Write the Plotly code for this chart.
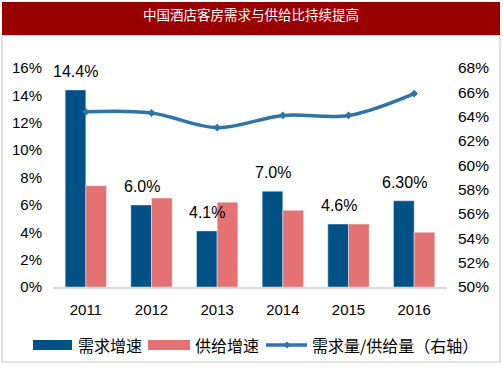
import plotly.graph_objects as go

years = ["2011", "2012", "2013", "2014", "2015", "2016"]
demand_growth = [14.4, 6.0, 4.1, 7.0, 4.6, 6.3]
demand_labels = ["14.4%", "6.0%", "4.1%", "7.0%", "4.6%", "6.30%"]
supply_growth = [7.4, 6.5, 6.2, 5.6, 4.6, 4.0]
ratio = [64.4, 64.3, 63.1, 64.1, 64.1, 65.9]
left_ticks = [0, 2, 4, 6, 8, 10, 12, 14, 16]
right_ticks = [50, 52, 54, 56, 58, 60, 62, 64, 66, 68]
series_names = ["需求增速", "供给增速", "需求量/供给量（右轴）"]
title_text = "中国酒店客房需求与供给比持续提高"

W, H = 503, 378
ML, MR, MT, MB = 53, 56, 68, 91
PW, PH = W - ML - MR, H - MT - MB

def fx(x):
    return (x - ML) / PW

def fy(y):
    return (H - MB - y) / PH

DARK = "#005286"
PINK = "#e47272"
LINE = "#2f74a6"
FONT = "Liberation Sans, Arial, Noto Sans CJK SC, sans-serif"
CJK = "Noto Sans CJK SC"

fig = go.Figure()
fig.add_trace(go.Bar(x=years, y=demand_growth, name=series_names[0], marker_color=DARK,
                     showlegend=False))
fig.add_trace(go.Bar(x=years, y=supply_growth, name=series_names[1], marker_color=PINK,
                     showlegend=False))
fig.add_trace(go.Scatter(x=years, y=ratio, yaxis="y2", name=series_names[2], showlegend=False,
                         mode="lines+markers", line=dict(color=LINE, width=3.5, shape="spline"),
                         marker=dict(symbol="diamond", size=6, color=LINE)))

# category axis: annotation x given as category index
for i, (v, t) in enumerate(zip(demand_growth, demand_labels)):
    fig.add_annotation(x=i, y=v, text=t, showarrow=False, xref="x", yref="y",
                       xshift=-10, yanchor="bottom", yshift=8,
                       font=dict(size=16, color="#000", family=FONT))

shapes = [
    dict(type="rect", xref="paper", yref="paper", x0=fx(2), x1=fx(500), y0=fy(362), y1=fy(35),
         line=dict(color="#d9d9d9", width=1.5), fillcolor="rgba(0,0,0,0)", layer="below"),
    dict(type="rect", xref="paper", yref="paper", x0=fx(2), x1=fx(500), y0=fy(35), y1=fy(2),
         line=dict(width=0), fillcolor="#990000", layer="below"),
    # legend keys
    dict(type="rect", xref="paper", yref="paper", x0=fx(33), x1=fx(72), y0=fy(350), y1=fy(340),
         line=dict(width=0), fillcolor=DARK),
    dict(type="rect", xref="paper", yref="paper", x0=fx(148), x1=fx(190), y0=fy(350), y1=fy(340),
         line=dict(width=0), fillcolor=PINK),
    dict(type="line", xref="paper", yref="paper", x0=fx(266), x1=fx(307), y0=fy(345), y1=fy(345),
         line=dict(color=LINE, width=3.5)),
    dict(type="path", xref="paper", yref="paper",
         path=f"M {fx(283.5)} {fy(345)} L {fx(287)} {fy(341.5)} L {fx(290.5)} {fy(345)} L {fx(287)} {fy(348.5)} Z",
         line=dict(width=0), fillcolor=LINE),
]
fig.add_annotation(x=fx(251), y=fy(14), xref="paper", yref="paper", text=title_text,
                   showarrow=False, xanchor="center", yanchor="middle",
                   font=dict(size=13.5, color="white", family=CJK))
for xpos, name in zip([76, 193, 310], series_names):
    fig.add_annotation(x=fx(xpos), y=fy(345), xref="paper", yref="paper", text=name,
                       showarrow=False, xanchor="left", yanchor="middle",
                       font=dict(size=16, color="#000", family=CJK))

fig.update_layout(
    width=W, height=H, margin=dict(l=ML, r=MR, t=MT, b=MB, autoexpand=False),
    paper_bgcolor="white", plot_bgcolor="white",
    barmode="group", bargap=0.37, bargroupgap=0,
    font=dict(family=FONT, color="#000"),
    shapes=shapes, showlegend=False,
    xaxis=dict(type="category", range=[-0.5, len(years) - 0.5], showgrid=False, showline=True,
               linecolor="#d9d9d9", linewidth=2, tickfont=dict(size=15), ticks="",
               ticklabelstandoff=8),
    yaxis=dict(range=[0, 16], tickvals=left_ticks, ticktext=[f"{v}%" for v in left_ticks],
               showgrid=False, zeroline=False, tickfont=dict(size=15), ticklabelstandoff=10),
    yaxis2=dict(range=[50, 68], tickvals=right_ticks, ticktext=[f"{v}%" for v in right_ticks],
                overlaying="y", side="right", showgrid=False, zeroline=False,
                tickfont=dict(size=15.5), ticklabelstandoff=10),
)

fig.write_html("out.html", config={"displayModeBar": False},
               post_script="document.body.style.margin='0';")
